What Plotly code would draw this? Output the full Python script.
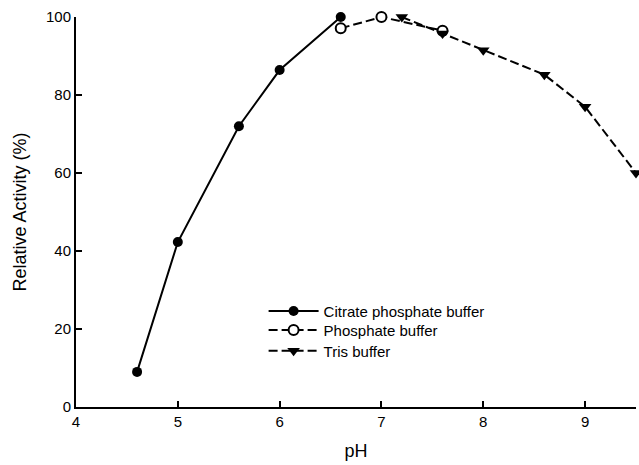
import plotly.graph_objects as go

citrate_ph = [4.6, 5.0, 5.6, 6.0, 6.6]
citrate_act = [9.0, 42.3, 72.0, 86.4, 100.0]

phosphate_ph = [6.6, 7.0, 7.6]
phosphate_act = [97.1, 100.0, 96.5]

tris_ph = [7.2, 7.6, 8.0, 8.6, 9.0, 9.5]
tris_act = [100.0, 95.8, 91.5, 85.2, 77.0, 60.0]

x_ticks = [4, 5, 6, 7, 8, 9]
y_ticks = [0, 20, 40, 60, 80, 100]

fig = go.Figure()
fig.add_trace(go.Scatter(
    x=citrate_ph, y=citrate_act, name="Citrate phosphate buffer", legend="legend",
    mode="lines+markers", line=dict(color="black", width=2),
    marker=dict(symbol="circle", size=10, color="black"), cliponaxis=False))
fig.add_trace(go.Scatter(
    x=phosphate_ph, y=phosphate_act, name="Phosphate buffer", legend="legend2",
    mode="lines+markers", line=dict(color="black", width=2, dash="9px,4px"),
    marker=dict(symbol="circle", size=10, color="white", line=dict(color="black", width=2)),
    cliponaxis=False))
fig.add_trace(go.Scatter(
    x=tris_ph, y=tris_act, name="Tris buffer", legend="legend3",
    mode="lines+markers", line=dict(color="black", width=2, dash="9px,4px"),
    marker=dict(symbol="triangle-down", size=11, color="black"), cliponaxis=False))

leg = dict(x=0.335, xanchor="left", yanchor="middle", bgcolor="rgba(0,0,0,0)",
           font=dict(size=15), itemwidth=50)

fig.update_layout(
    width=639, height=465,
    margin=dict(l=76, r=3, t=17, b=58, autoexpand=False),
    plot_bgcolor="white", paper_bgcolor="white",
    font=dict(family="Liberation Sans, Arial, sans-serif", size=15, color="black"),
    showlegend=True,
    legend=dict(leg, y=0.2456),
    legend2=dict(leg, y=0.197),
    legend3=dict(leg, y=0.1436),
    xaxis=dict(range=[4, 9.5], tickvals=x_ticks, showline=True, linecolor="black",
               linewidth=2, ticks="inside", ticklen=6, tickwidth=2, tickcolor="black",
               showgrid=False, zeroline=False, automargin=False,
               title=dict(text="pH")),
    yaxis=dict(range=[0, 100], tickvals=y_ticks, showline=True, linecolor="black",
               linewidth=2, ticks="inside", ticklen=6, tickwidth=2, tickcolor="black",
               showgrid=False, zeroline=False, automargin=False,
               title=dict(text="Relative Activity (%)")),
)

fig.write_html("out.html", config={"displayModeBar": False},
               post_script="document.body.style.margin='0px';document.body.style.overflow='hidden';")
